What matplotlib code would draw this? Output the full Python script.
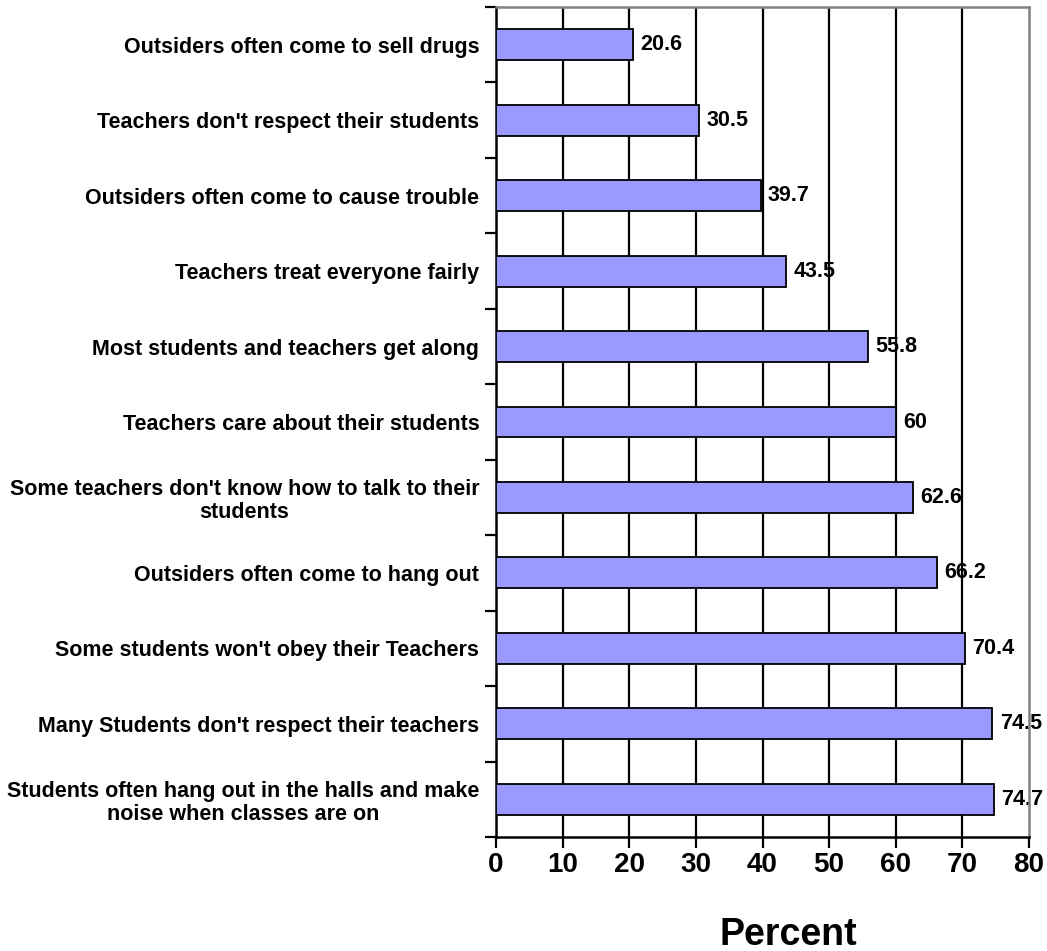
import numpy as np
import matplotlib
matplotlib.use("Agg")
from matplotlib import pyplot as plt

plt.rcParams.update({
    "font.family": ["Liberation Sans", "DejaVu Sans"],
    "font.weight": "bold",
})

# categories, top to bottom as in the chart
labels = [
    "Outsiders often come to sell drugs",
    "Teachers don't respect their students",
    "Outsiders often come to cause trouble",
    "Teachers treat everyone fairly",
    "Most students and teachers get along",
    "Teachers care about their students",
    "Some teachers don't know how to talk to their\nstudents",
    "Outsiders often come to hang out",
    "Some students won't obey their Teachers",
    "Many Students don't respect their teachers",
    "Students often hang out in the halls and make\nnoise when classes are on",
]
values = [20.6, 30.5, 39.7, 43.5, 55.8, 60, 62.6, 66.2, 70.4, 74.5, 74.7]
value_text = ["20.6", "30.5", "39.7", "43.5", "55.8", "60", "62.6", "66.2", "70.4", "74.5", "74.7"]
xticks = [0, 10, 20, 30, 40, 50, 60, 70, 80]

fig = plt.figure(figsize=(10.47, 9.51), dpi=100)
ax = fig.add_axes([496 / 1047, 1 - 837 / 951, (1029 - 496) / 1047, (837 - 7) / 951])

ypos = np.arange(len(labels))

##### grid lines (behind bars, above value labels) #####
for x in xticks[1:-1]:
    ax.axvline(x, color="black", lw=1.6, zorder=2)

ax.barh(ypos, values, height=0.41, color="#9999FF", edgecolor="black", linewidth=1.3, zorder=3)

for y, v, t in zip(ypos, values, value_text):
    ax.text(v + 1.1, y, t, va="center", ha="left", fontsize=15.5, fontweight="bold",
            zorder=1, clip_on=False)

ax.set_xlim(0, 80)
ax.set_ylim(len(labels) - 0.5, -0.5)

ax.set_xticks(xticks)
ax.set_xticklabels([str(x) for x in xticks], fontsize=20, fontweight="bold")
ax.tick_params(axis="x", direction="out", length=8, width=1.6, pad=3)

ax.set_yticks(ypos)
ax.set_yticklabels(labels, fontsize=15.5, fontweight="bold", ha="right",
                   multialignment="center", linespacing=1.15)
ax.tick_params(axis="y", which="major", length=0, pad=12)
ax.set_yticks(np.arange(len(labels) + 1) - 0.5, minor=True)
ax.tick_params(axis="y", which="minor", direction="out", length=8, width=1.6)

for side in ["left", "bottom"]:
    ax.spines[side].set_linewidth(1.8)
    ax.spines[side].set_color("black")
for side in ["top", "right"]:
    ax.spines[side].set_linewidth(1.8)
    ax.spines[side].set_color("#808080")

fig.text(788 / 1047, 1 - 935 / 951, "Percent", fontsize=27, fontweight="bold",
         ha="center", va="center")

fig.savefig("out.png", dpi=100)
